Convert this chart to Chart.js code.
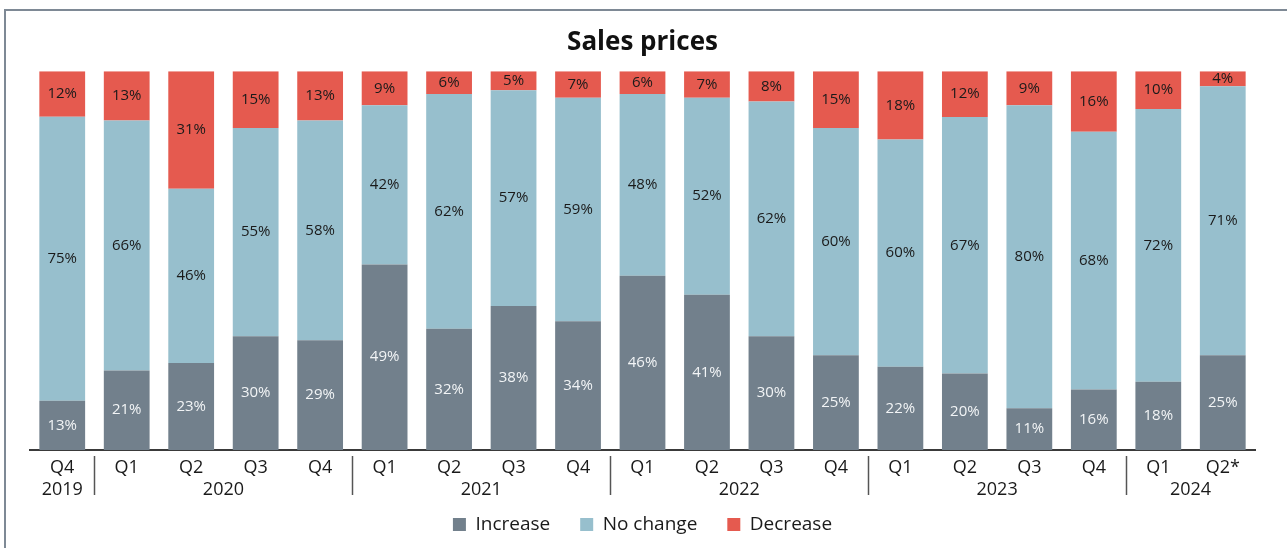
<!DOCTYPE html>
<html>
<head>
<meta charset="utf-8">
<script src="https://cdn.jsdelivr.net/npm/chart.js@4.4.1/dist/chart.umd.min.js"></script>
<style>
  html, body { margin: 0; padding: 0; background: #fff; overflow: hidden; }
  #frame { position: absolute; left: 4px; top: 9px; width: 1400px; height: 700px; border: 2px solid #7e8995; }
  #chart { position: absolute; left: 0; top: 0; }
</style>
</head>
<body>
<div id="frame"></div>
<canvas id="chart" width="1287" height="548"></canvas>
<script>
// Sales prices, share of answers per quarter
const quarters = ['Q4', 'Q1', 'Q2', 'Q3', 'Q4', 'Q1', 'Q2', 'Q3', 'Q4', 'Q1', 'Q2', 'Q3', 'Q4', 'Q1', 'Q2', 'Q3', 'Q4', 'Q1', 'Q2*'];
const years = ['2019', '2020', '2020', '2020', '2020', '2021', '2021', '2021', '2021', '2022', '2022', '2022', '2022', '2023', '2023', '2023', '2023', '2024', '2024'];
const increase = [13, 21, 23, 30, 29, 49, 32, 38, 34, 46, 41, 30, 25, 22, 20, 11, 16, 18, 25];
const noChange = [75, 66, 46, 55, 58, 42, 62, 57, 59, 48, 52, 62, 60, 60, 67, 80, 68, 72, 71];
const decrease = [12, 13, 31, 15, 13, 9, 6, 5, 7, 6, 7, 8, 15, 18, 12, 9, 16, 10, 4];

const FONT = '"Open Sans", "Noto Sans", sans-serif';
const COL_INC = '#72808c';
const COL_NOC = '#97bfcd';
const COL_DEC = '#e55a4f';

// bars are stacked to 100 % (answers that don't add up are stretched)
const totals = increase.map((v, i) => v + noChange[i] + decrease[i]);
const share = arr => arr.map((v, i) => v / totals[i] * 100);

const valueLabels = {
  id: 'valueLabels',
  afterDatasetsDraw(chart) {
    const ctx = chart.ctx;
    ctx.save();
    ctx.font = '15px ' + FONT;
    ctx.textAlign = 'center';
    ctx.textBaseline = 'middle';
    chart.data.datasets.forEach((ds, di) => {
      const meta = chart.getDatasetMeta(di);
      ctx.fillStyle = di === 0 ? '#f2f4f6' : '#1a1a1a';
      meta.data.forEach((el, i) => {
        const y = (el.y + el.base) / 2;
        ctx.fillText(ds.raw[i] + '%', el.x, y);
      });
    });
    ctx.restore();
  }
};

// year row under the quarter ticks, with separators between years
const yearAxis = {
  id: 'yearAxis',
  afterDraw(chart) {
    const ctx = chart.ctx;
    const xs = chart.scales.x;
    const bottom = chart.chartArea.bottom;
    ctx.save();
    ctx.font = '18px ' + FONT;
    ctx.fillStyle = '#1a1a1a';
    ctx.textAlign = 'center';
    ctx.textBaseline = 'middle';
    ctx.strokeStyle = '#555';
    ctx.lineWidth = 1.5;
    let start = 0;
    for (let i = 1; i <= years.length; i++) {
      if (i === years.length || years[i] !== years[start]) {
        const x0 = xs.getPixelForTick(start);
        const x1 = xs.getPixelForTick(i - 1);
        ctx.fillText(years[start], (x0 + x1) / 2, bottom + 40);
        if (i < years.length) {
          const sx = Math.round((x1 + xs.getPixelForTick(i)) / 2) + 0.5;
          ctx.beginPath();
          ctx.moveTo(sx, bottom + 6);
          ctx.lineTo(sx, bottom + 45);
          ctx.stroke();
        }
        start = i;
      }
    }
    ctx.restore();
  }
};

new Chart(document.getElementById('chart'), {
  type: 'bar',
  data: {
    labels: quarters,
    datasets: [
      { label: 'Increase', data: share(increase), raw: increase, backgroundColor: COL_INC },
      { label: 'No change', data: share(noChange), raw: noChange, backgroundColor: COL_NOC },
      { label: 'Decrease', data: share(decrease), raw: decrease, backgroundColor: COL_DEC }
    ]
  },
  options: {
    responsive: false,
    animation: false,
    datasets: { bar: { categoryPercentage: 1, barPercentage: 0.71 } },
    layout: { padding: { left: 30, right: 32, top: 27, bottom: 4 } },
    plugins: {
      title: {
        display: true,
        text: 'Sales prices',
        color: '#111',
        font: { family: FONT, size: 26, weight: 'bold' },
        padding: { top: 0, bottom: 13 }
      },
      legend: {
        position: 'bottom',
        labels: {
          boxWidth: 13,
          boxHeight: 13,
          padding: 30,
          color: '#1a1a1a',
          font: { family: FONT, size: 19 }
        }
      },
      tooltip: { enabled: false }
    },
    scales: {
      x: {
        stacked: true,
        grid: { display: false, drawTicks: false },
        border: { display: true, color: '#3a3a3a', width: 2 },
        ticks: { color: '#1a1a1a', padding: 4, font: { family: FONT, size: 18, lineHeight: 1.5 } }
      },
      y: {
        stacked: true,
        display: false,
        min: 0,
        max: 100
      }
    }
  },
  plugins: [valueLabels, yearAxis]
});
</script>
</body>
</html>
